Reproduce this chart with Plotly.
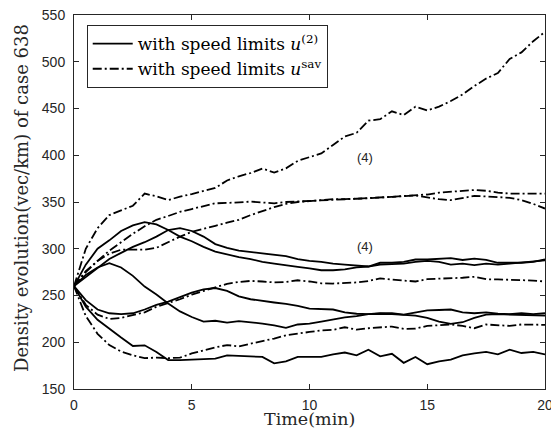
import plotly.graph_objects as go

t = [i * 0.5 for i in range(41)]

# Solid lines: with speed limits u^(2)
s1 = [260, 283, 300, 309, 319, 325, 328.5, 326, 320, 313, 308, 302, 297, 294, 291, 289, 286, 284, 282, 280.5,
      279, 277, 277, 278, 280, 281, 283, 283.5, 284, 286, 287, 286, 283, 284, 282.5, 284, 283, 284, 285, 286, 287.5]
s2 = [260, 270, 280, 289, 295.6, 302, 307, 313, 320, 322, 319, 313, 305, 301, 298, 296.5, 295, 294, 292, 289,
      287, 286, 284, 283, 282, 281, 285, 285, 286, 288.5, 288.5, 289.5, 290, 288, 289.5, 288, 285, 285, 285, 286, 288.5]
s3 = [260, 272, 280, 284.5, 280, 271, 259.5, 251, 241.5, 233, 227, 222, 223, 221, 222.5, 221.5, 220, 218, 215.5, 219,
      220, 222, 224.5, 226.5, 228, 230, 231, 231, 229.5, 231.5, 234, 234.5, 235, 232, 231, 232, 230.5, 230, 231, 230, 231]
s4 = [260, 245, 235, 231, 230, 231, 235, 240, 243.5, 248, 253, 256.5, 258, 255, 249, 246, 244, 242.5, 241, 239,
      236, 235.5, 235, 232, 230.5, 230, 230.5, 230, 229, 228.5, 226, 222, 219.6, 221.4, 226, 229.5, 230, 229.5, 229.5, 229, 228.5]
s5 = [260, 238, 224, 214, 205, 196, 196.7, 189.5, 181, 180.8, 181.5, 182, 182.5, 186, 185.5, 185, 184.3, 177.5, 179.5, 184.3,
      184.3, 184.3, 187, 189, 186, 192, 185, 187.7, 178, 184.3, 176.5, 179.5, 181.5, 186, 188, 189.6, 187, 192, 188.5, 189.6, 187]

# Dash-dot lines: with speed limits u^sav
d1 = [260, 300, 322, 336, 341, 346, 359, 356, 352, 355.7, 358.5, 361.5, 365, 373, 377.5, 381, 385.8, 381.5, 386, 394,
      398, 402, 411, 420, 424, 437, 438.5, 447, 443, 452, 448, 452, 458, 465, 474, 482, 488, 503, 510, 522, 532]
d2 = [260, 275, 287, 298, 307, 316, 324, 331, 335, 339.5, 342.5, 345.5, 348.6, 349, 349.7, 350.4, 349.5, 348.6, 350, 350.7,
      351, 352, 352.5, 353, 353.5, 354, 354.7, 355.5, 356.5, 357, 355, 353, 352, 354, 356.5, 356, 355.5, 354.5, 352, 348, 343]
d3 = [260, 276, 287, 294.6, 299, 299, 299, 301, 307, 313, 318, 321, 324.5, 328, 331, 336, 340.5, 344.5, 348, 350,
      351, 352, 353, 353, 353.5, 354, 354.7, 355.5, 356.5, 357.5, 358, 360, 361, 362, 362.8, 362, 360, 359, 359, 359, 359]
d4 = [260, 240, 229.5, 225, 226, 229, 232, 238, 242, 246, 251, 255, 259, 262.5, 264.5, 265.6, 265, 264, 264.5, 266.3,
      265, 263, 262.8, 263.2, 264, 265.5, 268.4, 267, 266, 265, 267.5, 267.8, 268.2, 269, 270, 267.4, 267.2, 267, 266.5, 266, 265]
d5 = [260, 228, 209, 197, 190, 186, 183, 183.6, 183, 183.5, 188, 191.5, 194.5, 197, 195.6, 198.5, 201, 204, 207.5, 209.5,
      211, 212.6, 213.3, 216, 213.5, 215, 216.2, 216.8, 214.3, 214.5, 217.5, 218.5, 219, 217.5, 215, 219, 218, 217.5, 219, 218.5, 218.6]

solid_series = [s1, s2, s3, s4, s5]
dashdot_series = [d1, d2, d3, d4, d5]
name_solid = "with speed limits <i>u</i><sup>(2)</sup>"
name_dd = "with speed limits <i>u</i><sup>sav</sup>"

x_ticks = [0, 5, 10, 15, 20]
y_ticks = [150, 200, 250, 300, 350, 400, 450, 500, 550]
ann_x = [12.35, 12.35]
ann_y = [398, 302]
ann_text = ["(4)", "(4)"]
x_title = "Time(min)"
y_title = "Density evolution(vec/km) of case 638"

fig = go.Figure()
for i, s in enumerate(solid_series):
    fig.add_trace(go.Scatter(x=t, y=s, mode="lines", name=name_solid, legendgroup="a",
                             showlegend=(i == 0), line=dict(color="black", width=1.8)))
for i, s in enumerate(dashdot_series):
    fig.add_trace(go.Scatter(x=t, y=s, mode="lines", name=name_dd, legendgroup="b",
                             showlegend=(i == 0),
                             line=dict(color="black", width=1.8, dash="9px,3px,2px,3px")))

for ax_, ay_, tx in zip(ann_x, ann_y, ann_text):
    fig.add_annotation(x=ax_, y=ay_, text=tx, showarrow=False,
                       font=dict(family="Liberation Sans, Arial", size=13, color="#262626"))

# axis titles
fig.add_annotation(x=0.5, y=-0.079, xref="paper", yref="paper", text=x_title, showarrow=False,
                   xanchor="center", yanchor="middle",
                   font=dict(family="DejaVu Serif", size=17.5, color="#262626"))
fig.add_annotation(x=-0.113, y=0.51, xref="paper", yref="paper", text=y_title, showarrow=False,
                   xanchor="center", yanchor="middle", textangle=-90,
                   font=dict(family="DejaVu Serif", size=18, color="#262626"))

axis_common = dict(showline=True, linecolor="#262626", linewidth=1, mirror="ticks",
                   ticks="inside", ticklen=5, tickcolor="#262626", showgrid=False, zeroline=False,
                   ticklabeloverflow="allow", automargin=False,
                   tickfont=dict(family="Liberation Sans, Arial", size=14, color="#262626"))

# the page body adds an 8px margin, so the figure is sized to fit the 559x436 window
fig.update_layout(
    width=551, height=420,
    margin=dict(l=66, r=14, t=7, b=39, autoexpand=False),
    paper_bgcolor="white", plot_bgcolor="white",
    xaxis=dict(range=[0, 20], tickvals=x_ticks, ticklabelstandoff=3, **axis_common),
    yaxis=dict(range=[150, 550], tickvals=y_ticks, ticklabelstandoff=5, **axis_common),
    legend=dict(x=0.027, y=0.973, xanchor="left", yanchor="top",
                bgcolor="white", bordercolor="#262626", borderwidth=1,
                font=dict(family="DejaVu Serif", size=17, color="black"),
                tracegroupgap=0, itemwidth=40),
    showlegend=True,
)

fig.write_html("out.html")
